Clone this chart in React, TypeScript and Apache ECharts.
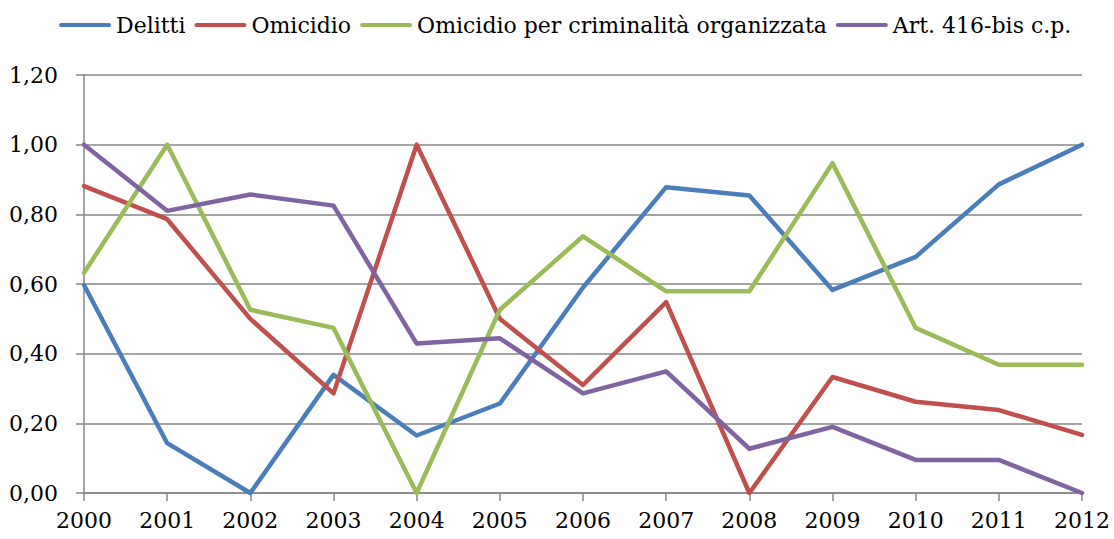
import React, { useEffect, useRef } from "react";
import * as echarts from "echarts";

const years = ["2000", "2001", "2002", "2003", "2004", "2005", "2006", "2007", "2008", "2009", "2010", "2011", "2012"];
const delitti = [0.597, 0.143, 0, 0.339, 0.165, 0.257, 0.59, 0.878, 0.854, 0.583, 0.678, 0.886, 1];
const omicidio = [0.881, 0.786, 0.5, 0.286, 1, 0.5, 0.31, 0.548, 0, 0.333, 0.262, 0.238, 0.167];
const omicidioOrg = [0.632, 1, 0.526, 0.474, 0, 0.526, 0.737, 0.579, 0.579, 0.947, 0.474, 0.368, 0.368];
const art416 = [1, 0.81, 0.857, 0.825, 0.429, 0.444, 0.286, 0.349, 0.127, 0.19, 0.095, 0.095, 0];

const seriesNames = ["Delitti", "Omicidio", "Omicidio per criminalità organizzata", "Art. 416-bis c.p."];
const seriesData = [delitti, omicidio, omicidioOrg, art416];
const colors = ["#4a7ebb", "#c0504d", "#9bbb59", "#8064a2"];

const FONT = "DejaVu Serif";

export default function App() {
  const ref = useRef<HTMLDivElement>(null);
  useEffect(() => {
    if (!ref.current) return;
    const chart = echarts.init(ref.current, undefined, { renderer: "svg" });
    chart.setOption({
      animation: false,
      backgroundColor: "#ffffff",
      legend: {
        top: 9,
        left: 54,
        itemWidth: 52,
        itemHeight: 12,
        itemGap: 9,
        icon: "path://M2,4 L50,4 A2,2 0 0 1 50,8 L2,8 A2,2 0 0 1 2,4 Z",
        textStyle: { fontFamily: FONT, fontSize: 22, color: "#000" },
        data: seriesNames,
      },
      grid: { left: 84, right: 32, top: 75, bottom: 46, containLabel: false },
      xAxis: {
        type: "category",
        data: years,
        boundaryGap: false,
        axisLine: { show: true, lineStyle: { color: "#868686", width: 1.5 } },
        axisTick: { show: true, length: 8, lineStyle: { color: "#868686", width: 1.5 } },
        axisLabel: { fontFamily: FONT, fontSize: 22, color: "#000", margin: 16 },
        splitLine: { show: false },
      },
      yAxis: {
        type: "value",
        min: 0,
        max: 1.2,
        interval: 0.2,
        axisLine: { show: true, lineStyle: { color: "#868686", width: 1.5 } },
        axisTick: { show: true, length: 8, lineStyle: { color: "#868686", width: 1.5 } },
        axisLabel: {
          fontFamily: FONT,
          fontSize: 22,
          color: "#000",
          margin: 26,
          formatter: (v: number) => v.toFixed(2).replace(".", ","),
        },
        splitLine: { show: true, lineStyle: { color: "#868686", width: 1.5 } },
      },
      series: seriesNames.map((name, i) => ({
        name,
        type: "line",
        data: seriesData[i],
        symbol: "none",
        color: colors[i],
        lineStyle: { color: colors[i], width: 4.5, cap: "round", join: "round" },
        itemStyle: { color: colors[i] },
      })),
    });
    return () => chart.dispose();
  }, []);
  return (
    <div
      ref={ref}
      style={{ position: "fixed", left: 0, top: 0, width: 1114, height: 539 }}
    />
  );
}
